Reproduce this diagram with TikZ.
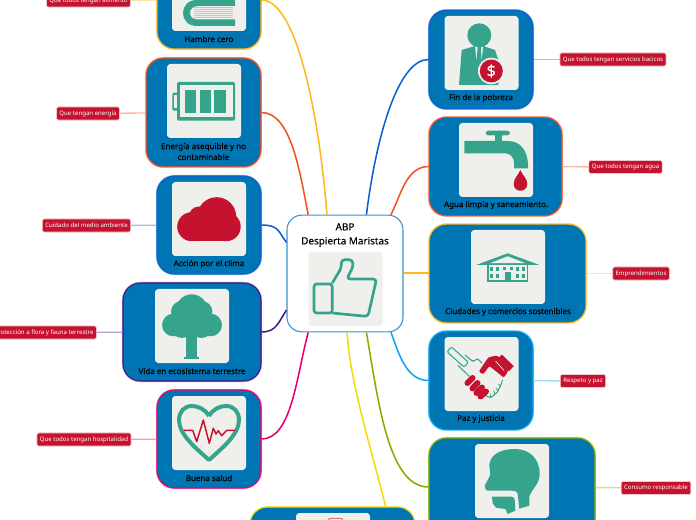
\documentclass[tikz,border=0pt]{standalone}
\usepackage{fontspec}
\usepackage{tikz}
\usetikzlibrary{positioning}
\newfontfamily\mapfont[FakeBold=0.25]{Noto Sans}
\newfontfamily\tagfont{Noto Sans}
\definecolor{cardblue}{HTML}{0075B4}
\definecolor{iconbg}{HTML}{EFF0EC}
\definecolor{iconteal}{HTML}{36A48C}
\definecolor{iconred}{HTML}{C4122F}
\definecolor{hubblue}{HTML}{3A8FD0}
\definecolor{linegold}{HTML}{FFB81C}
\definecolor{lineorange}{HTML}{F4511E}
\definecolor{lineblue}{HTML}{0D5FD0}
\definecolor{linepurple}{HTML}{4A148C}
\definecolor{linepink}{HTML}{E6006E}
\definecolor{linesky}{HTML}{0AA5EE}
\definecolor{linegreen}{HTML}{7FB000}
\definecolor{lineyellow}{HTML}{F5D90A}
\tikzset{
	card/.style={draw=#1,fill=cardblue,line width=0.8pt,rounded corners=13pt,inner sep=0pt,
		preaction={draw=#1!35,line width=1.7pt}},
	iconbox/.style={fill=iconbg,minimum width=55.5pt,minimum height=55.5pt,rounded corners=2.5pt,inner sep=0pt},
	cardlabel/.style={font=\mapfont\fontsize{6}{8.2}\selectfont,align=center,inner sep=0pt},
	tag/.style={fill=iconred,draw=iconred!25,line width=0.5pt,text=white,rounded corners=1.5pt,
		font=\tagfont\fontsize{4.55}{5}\selectfont,minimum height=9.8pt,inner xsep=2.2pt,inner ysep=0pt},
	branch/.style={draw=#1,line width=1.15pt},
	leaf/.style={draw=#1!40,line width=1pt}
}
\begin{document}
\begin{tikzpicture}[x=0.75pt,y=-0.75pt]
	\path[use as bounding box,clip] (0,0) rectangle (696,520);

	\node[draw=hubblue,fill=white,line width=0.8pt,rounded corners=11pt,minimum width=87pt,minimum height=87.5pt,inner sep=0pt] (hub) at (345,273.5) {};
	\node[card=linegold,minimum width=78pt,minimum height=73.5pt] (cHambre) at (209,0) {};
	\node[card=lineorange,minimum width=86.2pt,minimum height=81.7pt] (cEnergia) at (203.5,112.5) {};
	\node[card=lineblue,minimum width=78pt,minimum height=73.5pt] (cAccion) at (209,225) {};
	\node[card=linepurple,minimum width=103.5pt,minimum height=73.5pt] (cVida) at (192,332) {};
	\node[card=linepink,minimum width=78pt,minimum height=73.5pt] (cSalud) at (209,439) {};
	\node[card=lineblue,minimum width=78pt,minimum height=74pt] (cFin) at (481,59.5) {};
	\node[card=lineorange,minimum width=99.7pt,minimum height=74pt] (cAgua) at (495.5,166.5) {};
	\node[card=linegold,minimum width=117.7pt,minimum height=74pt] (cCiudades) at (507.5,273.5) {};
	\node[card=linesky,minimum width=78pt,minimum height=74pt] (cPaz) at (481,380.5) {};
	\node[card=linegreen,minimum width=124.5pt,minimum height=73.5pt] (cConsumo) at (512,487) {};
	\node[card=lineyellow,minimum width=123.7pt,minimum height=73.5pt] (cCierre) at (332.5,556) {};

	\node[iconbox] (iHub) at (345.5,289) {};
	\node[iconbox] (iHambre) at (209,-6) {};
	\node[iconbox] (iEnergia) at (204,101) {};
	\node[iconbox] (iAccion) at (209,219) {};
	\node[iconbox] (iVida) at (192,326) {};
	\node[iconbox] (iSalud) at (209,433) {};
	\node[iconbox] (iFin) at (481.5,53) {};
	\node[iconbox] (iAgua) at (496,160) {};
	\node[iconbox] (iCiudades) at (508,267) {};
	\node[iconbox] (iPaz) at (481.5,374) {};
	\node[iconbox] (iConsumo) at (512,481) {};
	\node[iconbox] (iCierre) at (333,550) {};

	\node[cardlabel,font=\mapfont\fontsize{7.45}{10.5}\selectfont] (tHub) at (345,235) {ABP\\Despierta Maristas};
	\node[cardlabel] (tHambre) at (209,39) {Hambre cero};
	\node[cardlabel] (tEnergia) at (203.5,151.5) {Energía asequible y no\\contaminable};
	\node[cardlabel] (tAccion) at (209,264) {Acción por el clima};
	\node[cardlabel] (tVida) at (192,371) {Vida en ecosistema terrestre};
	\node[cardlabel] (tSalud) at (209,478) {Buena salud};
	\node[cardlabel] (tFin) at (481,98) {Fin de la pobreza};
	\node[cardlabel] (tAgua) at (496,205) {Agua limpia y saneamiento.};
	\node[cardlabel] (tCiudades) at (508,312) {Ciudades y comercios sostenibles};
	\node[cardlabel] (tPaz) at (481,419) {Paz y justicia};

	\node[tag] (gAlimento) at (88.5,0.5) {Que todos tengan alimento};
	\node[tag] (gEnergia) at (88,113.5) {Que tengan energía};
	\node[tag] (gAccion) at (86.5,225.5) {Cuidado del medio ambiente};
	\node[tag] (gVida) at (44,332.5) {Protección a flora y fauna terrestre};
	\node[tag] (gSalud) at (84,439.5) {Que todos tengan hospitalidad};
	\node[tag] (gFin) at (613,59.5) {Que todos tengan servicios bacicos};
	\node[tag] (gAgua) at (625.5,167) {Que todos tengan agua};
	\node[tag] (gCiudades) at (641,273.5) {Emprendimientos};
	\node[tag] (gPaz) at (583,381) {Respeto y paz};
	\node[tag] (gConsumo) at (656,488) {Consumo responsable};

	\draw[branch=linegold] (cHambre.east) .. controls +(35,0) and +(-8,-100) .. (hub.107);
	\draw[branch=lineorange] (cEnergia.east) .. controls +(30,0) and +(-8,-40) .. (hub.122);
	\draw[branch=lineblue] (cAccion.east) .. controls +(18,0) and +(-8,-10) .. (hub.152);
	\draw[branch=linepurple] (cVida.east) .. controls +(15,0) and +(-8,12) .. (hub.212);
	\draw[branch=linepink] (cSalud.east) .. controls +(30,0) and +(-12,45) .. (hub.238);
	\draw[branch=lineblue] (cFin.west) .. controls +(-30,0) and +(10,-80) .. (hub.70);
	\draw[branch=lineorange] (cAgua.west) .. controls +(-22,0) and +(10,-20) .. (hub.52);
	\draw[branch=linegold,line width=1.5pt] (cCiudades.west) -- (hub.east);
	\draw[branch=linesky] (cPaz.west) .. controls +(-22,0) and +(8,22) .. (hub.-52);
	\draw[branch=linegreen] (cConsumo.west) .. controls +(-40,0) and +(12,70) .. (hub.-70);
	\draw[branch=lineyellow] (cCierre.43) .. controls +(-15,-60) and +(3,50) .. (hub.-88);

	\draw[leaf=linegold] (gAlimento) -- (cHambre);
	\draw[leaf=lineorange] (gEnergia) -- (cEnergia);
	\draw[leaf=lineblue] (gAccion) -- (cAccion);
	\draw[leaf=linepurple] (gVida) -- (cVida);
	\draw[leaf=linepink] (gSalud) -- (cSalud);
	\draw[leaf=lineblue] (cFin) -- (gFin);
	\draw[leaf=lineorange] (cAgua) -- (gAgua);
	\draw[leaf=linegold] (cCiudades) -- (gCiudades);
	\draw[leaf=linesky] (cPaz) -- (gPaz);
	\draw[leaf=linegreen] (cConsumo) -- (gConsumo);

	\draw[iconteal,line width=2pt,line join=round,rounded corners=2pt] (314,284) rectangle (332.3,313);
	\draw[iconteal,line width=2pt,line join=round,rounded corners=2.5pt] (332.3,283) -- (341.3,268) -- (341.3,259.7) -- (352.3,259.7) -- (353.3,266.3) -- (346.7,279) -- (376.5,279) -- (368,316.5) -- (332.3,313);

	\fill[iconteal] (235,0) -- (197,0) .. controls (188,0) and (183,6) .. (183,13) .. controls (183,20) and (188,26) .. (197,26) -- (235,26) -- (235,19.5) -- (198,19.5) .. controls (193,19.5) and (190,17) .. (190,13) .. controls (190,9) and (193,6) .. (198,6) -- (235,6) -- cycle;
	\fill[iconteal!45] (194,7) rectangle (233,19);
	\foreach \yy in {8.5,10.5,...,18.5}
		\draw[iconbg,line width=0.4pt] (194,\yy) -- (233,\yy);

	\fill[iconteal,rounded corners=1pt] (177,82) rectangle (235,120.7);
	\fill[iconteal,rounded corners=1pt] (172.3,92.7) rectangle (178,110.7);
	\fill[iconbg] (174.3,95) rectangle (177,108.5);
	\fill[iconbg] (180,85.5) rectangle (232.7,117.5);
	\fill[iconteal] (184.7,89.7) rectangle (196.3,112.7);
	\fill[iconteal] (199.7,89.7) rectangle (211.3,112.7);
	\fill[iconteal] (214.3,89.7) rectangle (226.3,112.7);

	\fill[iconred] (216.7,216.7) circle (19.5);
	\fill[iconred] (199,216.5) circle (10);
	\fill[iconred] (191.7,226.7) circle (14.5);
	\fill[iconred] (226.2,226.7) circle (14.5);
	\fill[iconred] (191.7,220) rectangle (226.2,241.2);

	\fill[iconteal] (191.7,310) circle (15.7);
	\fill[iconteal] (173.3,325) circle (11.3);
	\fill[iconteal] (210.7,325) circle (11.3);
	\fill[iconteal] (181.7,311.7) circle (10.7);
	\fill[iconteal] (201.7,311.7) circle (10.7);
	\fill[iconteal] (191.7,322) circle (15.5);
	\fill[iconteal] (182,326.5) circle (11.5);
	\fill[iconteal] (201.5,326.5) circle (11.5);
	\fill[iconteal] (186,330) rectangle (197.3,357.5);
	\fill[iconteal] (184,357) rectangle (199.3,358.7);

	\draw[iconteal,line width=3pt,line join=round] (209,416) .. controls (205,409) and (198,406) .. (192,406) .. controls (184,406) and (179,412) .. (179,420) .. controls (179,435) and (197,449) .. (209,460) .. controls (221,449) and (239,435) .. (239,420) .. controls (239,412) and (234,406) .. (226,406) .. controls (220,406) and (213,409) .. (209,416);
	\draw[iconred,line width=1.1pt,line join=round] (184,430.3) -- (192.7,430.3) -- (196.7,441.7) -- (203.3,420) -- (209.3,443.3) -- (213.3,428.3) -- (216,434) -- (218.3,430.7) -- (221.7,435.7) -- (226.7,430.3) -- (235,430.3);

	\fill[iconteal] (479.3,35.3) circle (12);
	\fill[iconteal] (459,85) -- (461.7,50) -- (475,46) -- (476.5,62) -- (477.8,46) -- (481,46) -- (481.5,62) -- (483.3,46) -- (495,50) -- (498.3,60) -- (498.3,85) -- cycle;
	\fill[iconbg] (491.3,71) circle (13.3);
	\fill[iconred] (491.3,71) circle (11.5);
	\node[text=white,font=\mapfont\fontsize{12}{12}\selectfont,inner sep=0pt] (dollar) at (491.3,71) {\$};

	\fill[iconteal,rounded corners=2pt] (485.7,130.7) rectangle (510,135.3);
	\fill[iconteal] (495,135) rectangle (501.7,142);
	\fill[iconteal] (464.3,141) -- (464.3,153.3) -- (506,153.3) .. controls (511,154) and (514,158) .. (514,163.3) -- (514,168.3) -- (528,168.3) -- (528,163.3) .. controls (527,150) and (520,141) .. (508,141) -- cycle;
	\fill[iconred] (520.3,170) .. controls (518,176) and (513.7,178) .. (513.7,184) .. controls (513.7,188) and (516.5,190.7) .. (520.3,190.7) .. controls (524.5,190.7) and (527.3,188) .. (527.3,184) .. controls (527.3,178) and (522.5,176) .. (520.3,170) -- cycle;

	\fill[iconteal] (486.7,264) rectangle (528.3,281.7);
	\fill[iconbg] (488.5,264) rectangle (526.5,280);
	\fill[iconteal] (507.7,253.3) -- (476.7,264.8) -- (539,264.8) -- cycle;
	\fill[iconbg] (507.7,256.3) -- (490,263.2) -- (525.4,263.2) -- cycle;
	\foreach \xx in {490,496,515.5,522} {
		\fill[iconteal] (\xx,267) rectangle +(3,4);
		\fill[iconteal] (\xx,274) rectangle +(3,4);
	}
	\fill[iconteal] (503,267) rectangle +(3,3.5);
	\fill[iconteal] (509.5,267) rectangle +(3,3.5);
	\fill[iconteal] (505,272) rectangle (511,280.5);

	\draw[iconteal,line width=0.8pt,rotate around={-42:(457.7,357)},rounded corners=1.5pt] (446.2,353.7) rectangle (469.2,360.3);
	\draw[iconteal,line width=0.8pt,line join=round] (465,355) -- (472.7,361.3) -- (477.7,359) -- (482,363);
	\draw[iconteal,line width=0.8pt,line join=round] (458,365.5) -- (469.3,376.3);
	\draw[iconteal,line width=0.8pt,line join=round] (486,396) -- (491,397.5) -- (497,392.5) -- (500.5,386) -- (502.5,380);
	\draw[iconteal,line width=0.6pt] (491,397.5) -- (490,393.5) (495,394) -- (493.5,390.5) (498,390.5) -- (496,388) (500.5,386) -- (498.5,384);
	\fill[iconred,rounded corners=1pt] (478.7,371.7) -- (488.3,357.3) -- (497,355.5) -- (510,368) -- (504,377.7) -- (489.3,366) -- (483.3,374.3) -- cycle;
	\draw[iconbg,line width=0.5pt] (495.5,361) -- (504,370.5);
	\draw[iconred,line width=5pt] (499.5,357) -- (511.5,368.5);
	\draw[iconred,line width=4.5pt,line cap=round] (472.5,378) -- (467.5,383);
	\draw[iconred,line width=4.5pt,line cap=round] (477.5,383) -- (472.5,388.5);
	\draw[iconred,line width=4.5pt,line cap=round] (482,387.5) -- (476.5,393);
	\draw[iconred,line width=4.5pt,line cap=round] (486,391.5) -- (480.5,396.5);

	\fill[iconteal] (484.7,486) .. controls (486,482) and (490.3,477) .. (490.3,473.3) .. controls (490,470) and (489.3,468) .. (489.3,465) .. controls (490,457) and (497,449) .. (515.3,449) .. controls (530.3,449) and (539.7,460) .. (539.7,473.3) .. controls (539.7,485) and (532,488) .. (529.3,496.7) -- (529.3,505.7) -- (519.3,508.7) -- (518,496.7) .. controls (518,492) and (516,490.7) .. (512,490.7) -- (488.7,490.7) .. controls (487,490.7) and (484.5,490) .. (485.3,488) -- cycle;
	\fill[iconteal] (492,496.7) -- (511.3,496.7) .. controls (513.5,496.7) and (514.5,498) .. (514.7,499.3) -- (515.3,510.7) -- (507.7,514) -- (505.3,509) -- (496,507.7) -- (492.7,503.3) -- cycle;

	\draw[iconred!60,line width=0.8pt,rounded corners=1.5pt,fill=iconbg] (328.5,518.3) rectangle (342.5,530);
\end{tikzpicture}
\end{document}
